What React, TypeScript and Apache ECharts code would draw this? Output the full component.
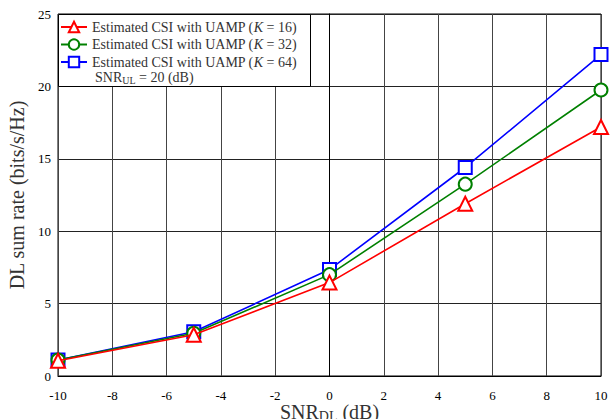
import React, { useEffect, useRef } from "react";
import * as echarts from "echarts";

const snrDL = [-10, -5, 0, 5, 10];
const rateK16 = [1.05, 2.85, 6.45, 11.9, 17.2];
const rateK32 = [1.1, 2.95, 7.0, 13.25, 19.75];
const rateK64 = [1.1, 3.05, 7.35, 14.4, 22.2];
const seriesNames = [
  "Estimated CSI with UAMP (K = 16)",
  "Estimated CSI with UAMP (K = 32)",
  "Estimated CSI with UAMP (K = 64)",
];

const FONT = "Liberation Serif";

export default function App() {
  const ref = useRef<HTMLDivElement>(null);
  useEffect(() => {
    if (!ref.current) return;
    const chart = echarts.init(ref.current, null, { renderer: "svg" });
    const mk = (name: string, data: number[], color: string, symbol: string, size: number, z: number) => ({
      name,
      type: "line",
      data: snrDL.map((x, i) => [x, data[i]]),
      symbol,
      symbolSize: size,
      showAllSymbol: true,
      z,
      lineStyle: { color, width: 1.6 },
      itemStyle: { color, borderColor: color, borderWidth: 1.6 },
    });
    chart.setOption({
      animation: false,
      backgroundColor: "#fff",
      textStyle: { fontFamily: FONT },
      grid: {
        left: 58,
        right: 9,
        top: 14,
        bottom: 43,
        outerBoundsMode: "none",
        containLabel: false,
        show: true,
        borderColor: "#000",
        borderWidth: 1,
      },
      legend: {
        data: seriesNames,
        orient: "vertical",
        left: 60,
        top: 20,
        padding: 0,
        itemWidth: 26,
        itemHeight: 13,
        itemGap: 3.5,
        textStyle: {
          fontFamily: FONT,
          fontSize: 14,
          lineHeight: 14,
          color: "#333",
          rich: { i: { fontStyle: "italic", fontFamily: FONT, fontSize: 14, color: "#333" } },
        },
        formatter: (n: string) => n.replace("(K", "({i|K}"),
        z: 20,
      },
      graphic: [
        {
          type: "rect",
          shape: { x: 58.5, y: 14.5, width: 252, height: 72 },
          style: { fill: "#fff", stroke: "#000", lineWidth: 1 },
          z: 10,
        },
        {
          type: "text",
          left: 95,
          top: 70,
          z: 20,
          style: {
            text: "SNR{s|UL} = 20 (dB)",
            fontFamily: FONT,
            fontSize: 14,
            fill: "#333",
            rich: { s: { fontSize: 10, fontFamily: FONT, padding: [6, 0, 0, 0], fill: "#333" } },
          },
        },
      ],
      xAxis: {
        type: "value",
        min: -10,
        max: 10,
        interval: 2,
        name: "SNR{s|DL} (dB)",
        nameLocation: "middle",
        nameGap: 24,
        nameMoveOverlap: false,
        nameTextStyle: {
          fontFamily: FONT,
          fontSize: 20,
          color: "#333",
          rich: { s: { fontSize: 14, fontFamily: FONT, padding: [9, 0, 0, 0], color: "#333" } },
        },
        axisLine: { show: true, lineStyle: { color: "#000" } },
        axisTick: { show: false },
        axisLabel: { fontFamily: FONT, fontSize: 13, color: "#000", margin: 13 },
        splitLine: { show: true, lineStyle: { color: "#444", width: 1 } },
      },
      yAxis: {
        type: "value",
        min: 0,
        max: 25,
        interval: 5,
        name: "DL sum rate (bits/s/Hz)",
        nameLocation: "middle",
        nameGap: 31,
        nameMoveOverlap: false,
        nameTextStyle: { fontFamily: FONT, fontSize: 20, color: "#333" },
        axisLine: { show: true, lineStyle: { color: "#000" } },
        axisTick: { show: false },
        axisLabel: { fontFamily: FONT, fontSize: 13, color: "#000", margin: 7 },
        splitLine: { show: true, lineStyle: { color: "#222", width: 1 } },
      },
      series: [
        mk(seriesNames[2], rateK64, "#0000ff", "emptyRect", 13, 2),
        mk(seriesNames[1], rateK32, "#008000", "emptyCircle", 13, 3),
        mk(seriesNames[0], rateK16, "#ff0000", "emptyTriangle", 14, 4),
      ],
    });
    return () => chart.dispose();
  }, []);
  return <div ref={ref} style={{ width: 610, height: 419, position: "absolute", left: 0, top: 0 }} />;
}
